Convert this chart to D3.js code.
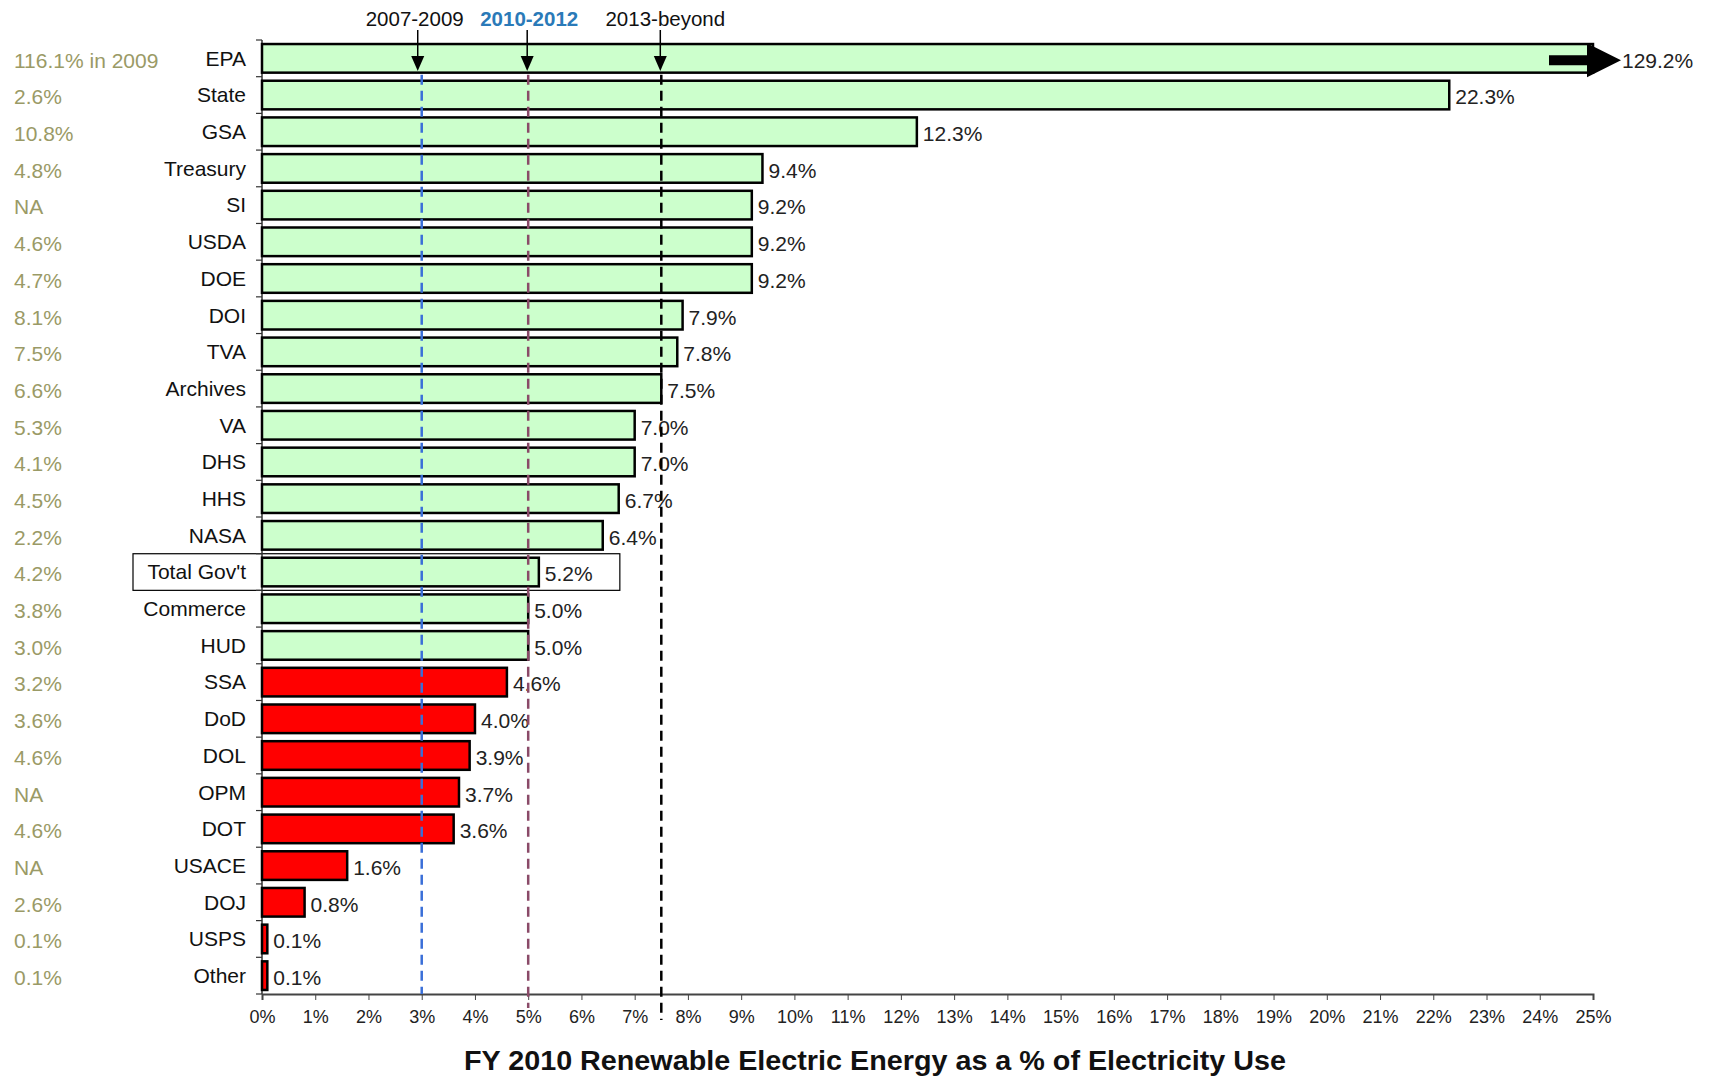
<!DOCTYPE html>
<html><head><meta charset="utf-8">
<script src="https://cdn.jsdelivr.net/npm/d3@7"></script>
<style>body{margin:0;background:#fff;overflow:hidden}</style>
</head><body>
<svg id="chart" width="1713" height="1076"></svg>
<script>
const agencies = ["EPA","State","GSA","Treasury","SI","USDA","DOE","DOI","TVA","Archives","VA","DHS","HHS","NASA","Total Gov't","Commerce","HUD","SSA","DoD","DOL","OPM","DOT","USACE","DOJ","USPS","Other"];
const fy2010 = [129.2,22.3,12.3,9.4,9.2,9.2,9.2,7.9,7.8,7.5,7.0,7.0,6.7,6.4,5.2,5.0,5.0,4.6,4.0,3.9,3.7,3.6,1.6,0.8,0.1,0.1];
const priorYear = ["116.1% in 2009","2.6%","10.8%","4.8%","NA","4.6%","4.7%","8.1%","7.5%","6.6%","5.3%","4.1%","4.5%","2.2%","4.2%","3.8%","3.0%","3.2%","3.6%","4.6%","NA","4.6%","NA","2.6%","0.1%","0.1%"];
const targetLabels = ["2007-2009","2010-2012","2013-beyond"];
const targetValues = [3, 5, 7.5];
const xTicks = d3.range(0, 26);
const axisTitle = "FY 2010 Renewable Electric Energy as a % of Electricity Use";

const FONT = "'Liberation Sans', Arial, sans-serif";
const svg = d3.select("#chart");
const x = d3.scaleLinear().domain([0, 25]).range([262, 1593]).clamp(true);
const y = d3.scaleBand().domain(agencies).range([40, 994]).paddingInner(0.22).paddingOuter(0.11);
const data = agencies.map((a, i) => ({name: a, value: fy2010[i], prior: priorYear[i]}));
const step = y.step();

// Total Gov't highlight box
const tg = "Total Gov't";
svg.append("rect")
  .attr("x", 133).attr("y", y(tg) - 4)
  .attr("width", x(5.2) + 81 - 133).attr("height", y.bandwidth() + 8)
  .attr("fill", "#fff").attr("stroke", "#000").attr("stroke-width", 1.2);

// left axis
svg.append("line").attr("x1", x(0)).attr("x2", x(0)).attr("y1", 40).attr("y2", 994)
  .attr("stroke", "#333").attr("stroke-width", 1.5);
svg.selectAll(".ytick").data(d3.range(0, agencies.length + 1)).join("line")
  .attr("x1", x(0) - 6).attr("x2", x(0))
  .attr("y1", i => 40 + i * step).attr("y2", i => 40 + i * step)
  .attr("stroke", "#333").attr("stroke-width", 1.2);

// bottom axis
const xAxis = d3.axisBottom(x).tickValues(xTicks).tickFormat(d => d + "%").tickSize(6).tickPadding(10);
const gx = svg.append("g").attr("transform", "translate(0,994)").call(xAxis);
gx.select(".domain").attr("stroke", "#444").attr("stroke-width", 2);
gx.selectAll(".tick line").attr("stroke", "#444").attr("stroke-width", 1);
gx.selectAll(".tick text").attr("font-family", FONT).attr("font-size", 18).attr("fill", "#222");

// bars
svg.selectAll(".bar").data(data).join("rect")
  .attr("x", x(0)).attr("y", d => y(d.name))
  .attr("width", d => x(d.value) - x(0)).attr("height", y.bandwidth())
  .attr("fill", d => d.value >= 5 ? "#ccffcc" : "#ff0000")
  .attr("stroke", "#000").attr("stroke-width", 2.5);

// EPA overflow arrow
const epaY = y("EPA") + y.bandwidth() / 2 + 2;
svg.append("path")
  .attr("d", `M${x(25) - 44},${epaY - 5} L${x(25) - 6},${epaY - 5} L${x(25) - 6},${epaY - 17} L${x(25) + 28},${epaY} L${x(25) - 6},${epaY + 17} L${x(25) - 6},${epaY + 5} L${x(25) - 44},${epaY + 5} Z`)
  .attr("fill", "#000");

// value labels
svg.selectAll(".val").data(data).join("text")
  .attr("x", d => d.value > 25 ? x(25) + 29 : x(d.value) + 6)
  .attr("y", d => y(d.name) + y.bandwidth() / 2 + 2)
  .attr("dy", "0.35em")
  .attr("font-family", FONT).attr("font-size", 21).attr("fill", "#222")
  .text(d => d3.format(".1f")(d.value) + "%");

// agency labels
svg.selectAll(".lab").data(data).join("text")
  .attr("x", 246).attr("y", d => y(d.name) + y.bandwidth() / 2)
  .attr("dy", "0.35em").attr("text-anchor", "end")
  .attr("font-family", FONT).attr("font-size", 21).attr("fill", "#111")
  .text(d => d.name);

// prior-year labels
svg.selectAll(".prior").data(data).join("text")
  .attr("x", 14).attr("y", d => y(d.name) + y.bandwidth() / 2 + 2)
  .attr("dy", "0.35em")
  .attr("font-family", FONT).attr("font-size", 21).attr("fill", "#9a9a66")
  .text(d => d.prior);

// target dashed lines
const lineColors = ["#3a6fd8", "#8a4a68", "#000"];
const lineEnds = [994, 1008, 1020];
targetValues.forEach((v, i) => {
  svg.append("line")
    .attr("x1", x(v)).attr("x2", x(v))
    .attr("y1", y("EPA") + y.bandwidth() + 2).attr("y2", lineEnds[i])
    .attr("stroke", lineColors[i]).attr("stroke-width", 2.5)
    .attr("stroke-dasharray", "10,6");
});

// header arrows and labels
const labelShift = [-3, 2, 5];
targetValues.forEach((v, i) => {
  const ax = x(v) - (i === 0 ? 4 : 1);
  svg.append("line").attr("x1", ax).attr("x2", ax).attr("y1", 30).attr("y2", 58)
    .attr("stroke", "#000").attr("stroke-width", 1.5);
  svg.append("path").attr("d", `M${ax - 6.5},56 L${ax + 6.5},56 L${ax},71 Z`).attr("fill", "#000");
  svg.append("text")
    .attr("x", ax + labelShift[i]).attr("y", 26).attr("text-anchor", "middle")
    .attr("font-family", FONT).attr("font-size", 20.5)
    .attr("font-weight", i === 1 ? "bold" : "normal")
    .attr("fill", i === 1 ? "#2a7ab8" : "#111")
    .text(targetLabels[i]);
});

// axis title
svg.append("text")
  .attr("x", 875).attr("y", 1070).attr("text-anchor", "middle")
  .attr("font-family", FONT).attr("font-size", 27).attr("font-weight", "bold").attr("fill", "#111")
  .attr("textLength", 822).attr("lengthAdjust", "spacingAndGlyphs")
  .text(axisTitle);
</script>
</body></html>
